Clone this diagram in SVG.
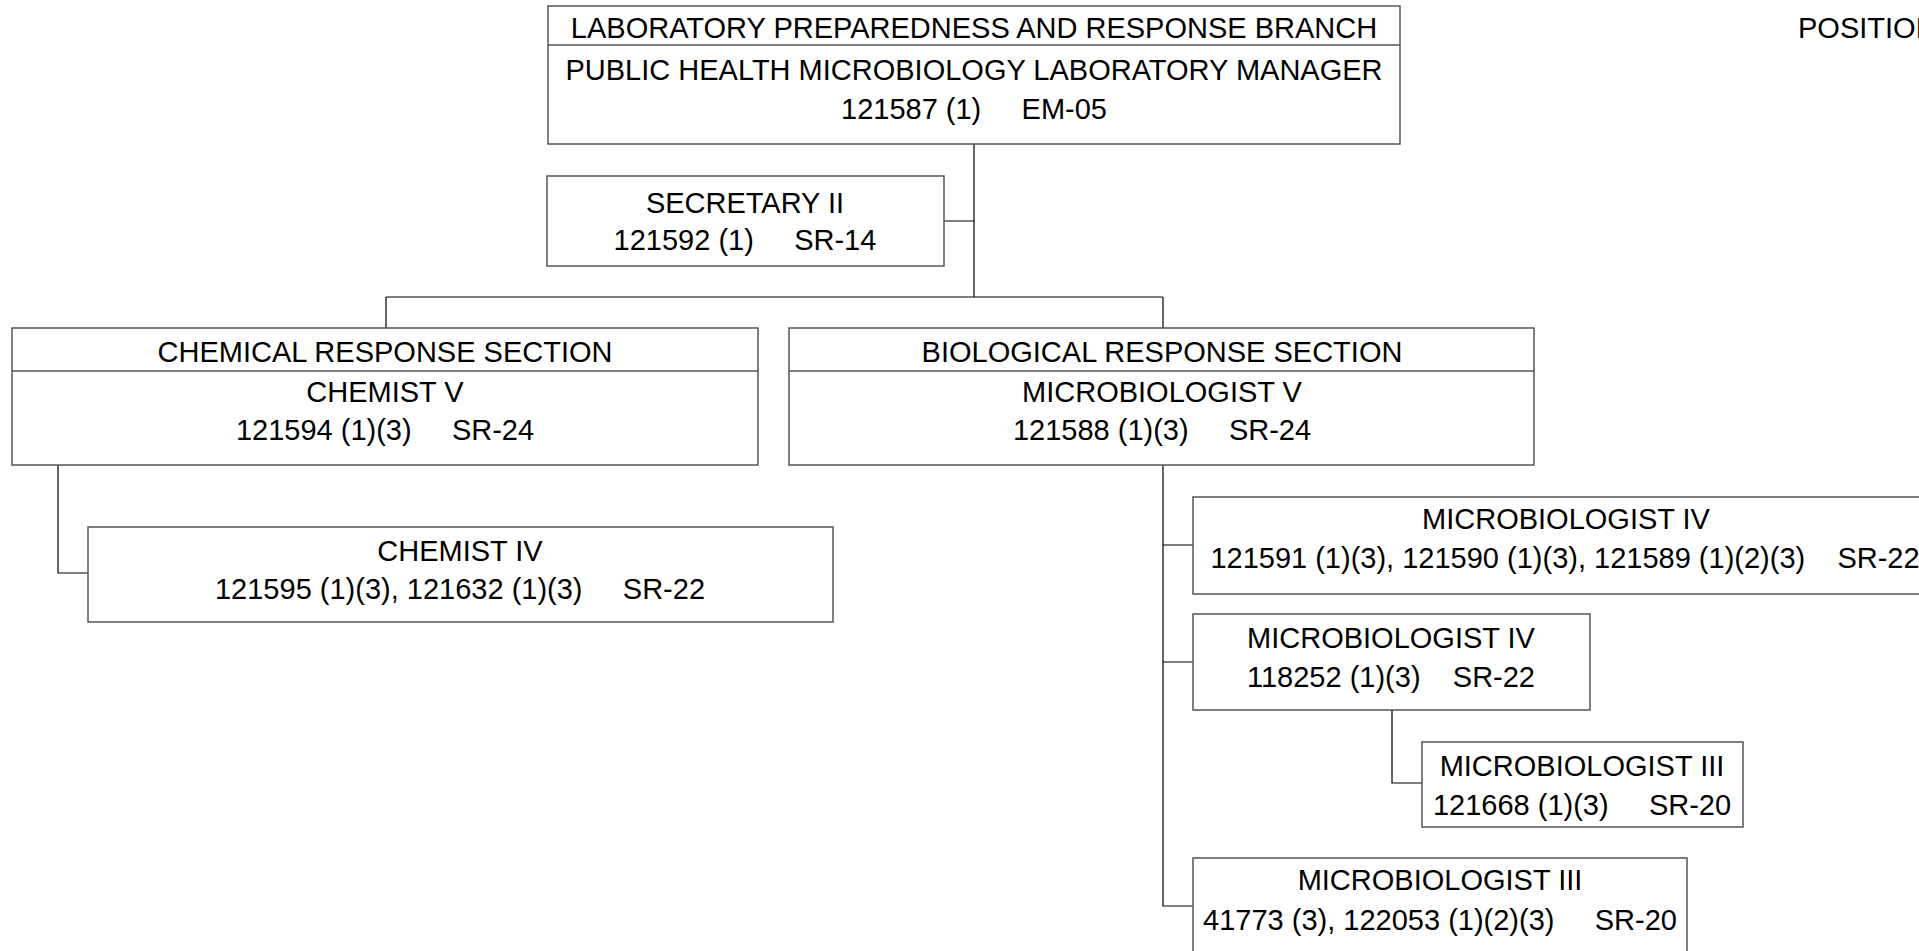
<svg xmlns="http://www.w3.org/2000/svg" width="1919" height="951" viewBox="0 0 1919 951">
<style>
.box{fill:#fff;stroke:#555;stroke-width:1.5}
.div{stroke:#555;stroke-width:1.5}
.con{fill:none;stroke:#000;stroke-width:1.2}
text{font-family:"Liberation Sans",Arial,sans-serif;font-size:29px;fill:#000;text-anchor:middle}
</style>
<rect width="1919" height="951" fill="#fff"/>
<g id="connectors">
<path class="con" d="M974,144V297M944,221H974M386,297H1163M386,297V328M1163,297V328"/>
<path class="con" d="M58,465V573H88"/>
<path class="con" d="M1163,465V906H1193M1163,545H1193M1163,662H1193"/>
<path class="con" d="M1392,710V783H1422"/>
</g>
<g id="n-branch">
<rect class="box" x="548" y="6" width="852" height="138"/>
<line class="div" x1="548" y1="45" x2="1400" y2="45"/>
<text x="974" y="38">LABORATORY PREPAREDNESS AND RESPONSE BRANCH</text>
<text x="974" y="80">PUBLIC HEALTH MICROBIOLOGY LABORATORY MANAGER</text>
<text x="974" y="119" xml:space="preserve">121587 (1)     EM-05</text>
</g>
<g id="n-secretary">
<rect class="box" x="547" y="176" width="397" height="90"/>
<text x="745" y="213">SECRETARY II</text>
<text x="745" y="250" xml:space="preserve">121592 (1)     SR-14</text>
</g>
<g id="n-chem">
<rect class="box" x="12" y="328" width="746" height="137"/>
<line class="div" x1="12" y1="371" x2="758" y2="371"/>
<text x="385" y="362">CHEMICAL RESPONSE SECTION</text>
<text x="385" y="402">CHEMIST V</text>
<text x="385" y="440" xml:space="preserve">121594 (1)(3)     SR-24</text>
</g>
<g id="n-bio">
<rect class="box" x="789" y="328" width="745" height="137"/>
<line class="div" x1="789" y1="371" x2="1534" y2="371"/>
<text x="1162" y="362">BIOLOGICAL RESPONSE SECTION</text>
<text x="1162" y="402">MICROBIOLOGIST V</text>
<text x="1162" y="440" xml:space="preserve">121588 (1)(3)     SR-24</text>
</g>
<g id="n-chemist4">
<rect class="box" x="88" y="527" width="745" height="95"/>
<text x="460" y="561">CHEMIST IV</text>
<text x="460" y="599" xml:space="preserve">121595 (1)(3), 121632 (1)(3)     SR-22</text>
</g>
<g id="n-micro4a">
<rect class="box" x="1193" y="497" width="745" height="97"/>
<text x="1566" y="529">MICROBIOLOGIST IV</text>
<text x="1565" y="568" xml:space="preserve">121591 (1)(3), 121590 (1)(3), 121589 (1)(2)(3)    SR-22</text>
</g>
<g id="n-micro4b">
<rect class="box" x="1193" y="614" width="397" height="96"/>
<text x="1391" y="648">MICROBIOLOGIST IV</text>
<text x="1391" y="687" xml:space="preserve">118252 (1)(3)    SR-22</text>
</g>
<g id="n-micro3a">
<rect class="box" x="1422" y="742" width="321" height="85"/>
<text x="1582" y="776">MICROBIOLOGIST III</text>
<text x="1582" y="815" xml:space="preserve">121668 (1)(3)     SR-20</text>
</g>
<g id="n-micro3b">
<rect class="box" x="1193" y="858" width="494" height="110"/>
<text x="1440" y="890">MICROBIOLOGIST III</text>
<text x="1440" y="930" xml:space="preserve">41773 (3), 122053 (1)(2)(3)     SR-20</text>
</g>
<g id="legend">
<text x="1798" y="38" style="text-anchor:start">POSITION</text>
</g>
</svg>
